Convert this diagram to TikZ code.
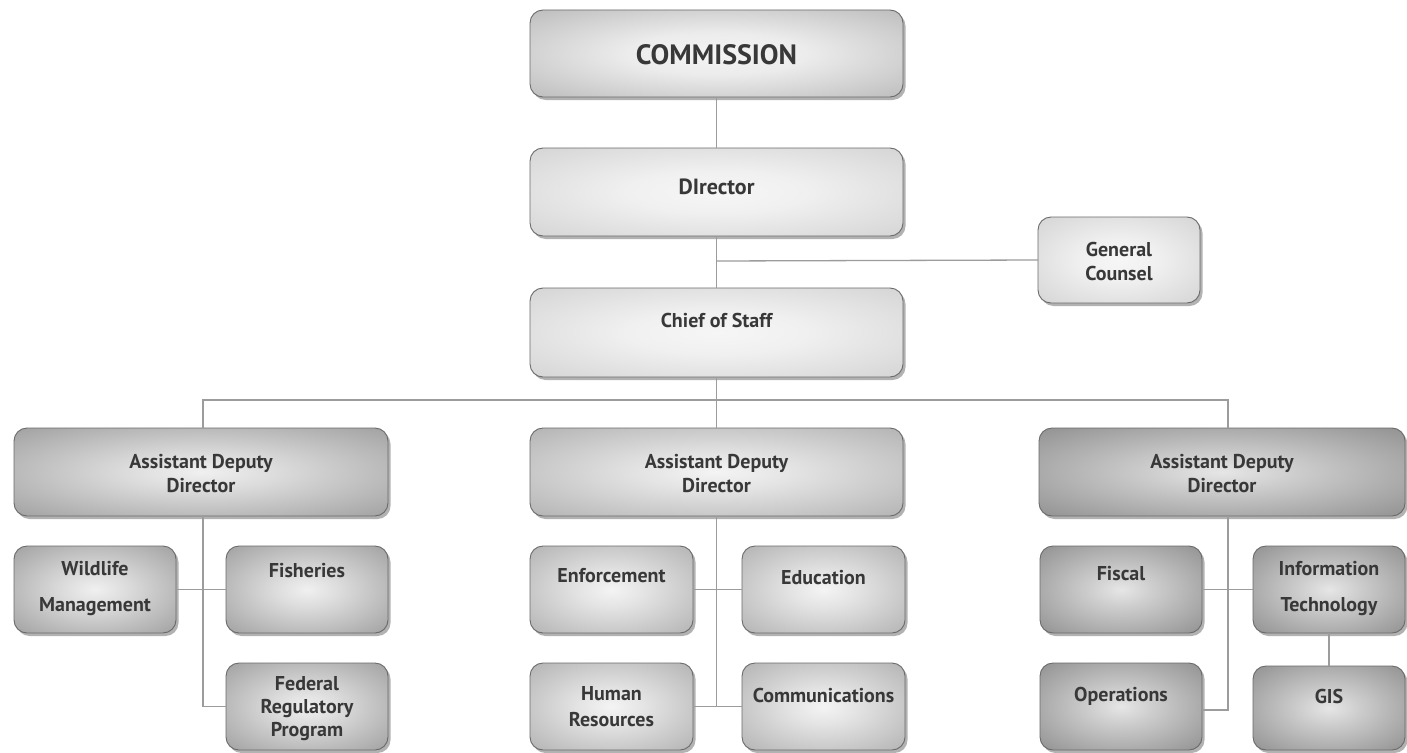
\documentclass[tikz,border=0pt]{standalone}
\usepackage{fontspec}
\setmainfont{PT Sans}
\usetikzlibrary{shadows}
\definecolor{txt}{HTML}{383838}
\definecolor{ln}{HTML}{9C9C9C}
\definecolor{bd}{HTML}{6A6A6A}
\pgfdeclareradialshading{shTop}{\pgfpoint{0bp}{0bp}}{color(0bp)=(rgb,255:red,244;green,244;blue,244); color(12bp)=(rgb,255:red,236;green,236;blue,236); color(50bp)=(rgb,255:red,160;green,160;blue,160)}
\pgfdeclareradialshading{shLt}{\pgfpoint{0bp}{0bp}}{color(0bp)=(rgb,255:red,246;green,246;blue,246); color(12bp)=(rgb,255:red,240;green,240;blue,240); color(50bp)=(rgb,255:red,196;green,196;blue,196)}
\pgfdeclareradialshading{shL}{\pgfpoint{0bp}{0bp}}{color(0bp)=(rgb,255:red,240;green,240;blue,240); color(10bp)=(rgb,255:red,220;green,220;blue,220); color(50bp)=(rgb,255:red,128;green,128;blue,128)}
\pgfdeclareradialshading{shM}{\pgfpoint{0bp}{0bp}}{color(0bp)=(rgb,255:red,244;green,244;blue,244); color(10bp)=(rgb,255:red,228;green,228;blue,228); color(50bp)=(rgb,255:red,152;green,152;blue,152)}
\pgfdeclareradialshading{shR}{\pgfpoint{0bp}{0bp}}{color(0bp)=(rgb,255:red,230;green,230;blue,230); color(10bp)=(rgb,255:red,205;green,205;blue,205); color(50bp)=(rgb,255:red,112;green,112;blue,112)}
\tikzset{
  box/.style={draw=bd, line width=0.9pt, rounded corners=13pt, inner sep=0pt, outer sep=0pt,
    drop shadow={shadow xshift=2.5pt, shadow yshift=-3pt, opacity=0.4, fill=black!75}},
  topbox/.style={box, shading=shTop},
  ltbox/.style={box, shading=shLt},
  lbox/.style={box, shading=shL},
  mbox/.style={box, shading=shM},
  rbox/.style={box, shading=shR},
  big/.style={minimum width=373pt, minimum height=88pt},
  small/.style={minimum width=162pt, minimum height=87pt},
  lbl/.style={text=txt, align=center, inner sep=0pt, font=\bfseries\fontsize{20}{24}\selectfont},
  conn/.style={draw=ln, line width=1.3pt}
}
\begin{document}
\begin{tikzpicture}[x=1pt, y=-1pt]
\fill[white] (0,0) rectangle (1407,752);
\useasboundingbox (0,0) rectangle (1407,752);

% boxes
\node[topbox, big, minimum height=87pt] (com) at (716.5,53.5) {};
\node[ltbox, big] (dir) at (716.5,192) {};
\node[ltbox, big, minimum height=89pt] (cos) at (716.5,332.5) {};
\node[ltbox, small, minimum height=86pt] (gc) at (1119,260) {};
\node[lbox, big, minimum width=374pt] (addL) at (201,472) {};
\node[mbox, big] (addM) at (716.5,472) {};
\node[rbox, big, minimum width=366pt] (addR) at (1222,472) {};
\node[lbox, small] (wild) at (95,589.5) {};
\node[lbox, small] (fish) at (307,589.5) {};
\node[lbox, small] (fed) at (307,706.5) {};
\node[mbox, small, minimum width=163pt] (enf) at (611.5,589.5) {};
\node[mbox, small, minimum width=163pt] (edu) at (823.5,589.5) {};
\node[mbox, small, minimum width=163pt] (hr) at (611.5,706.5) {};
\node[mbox, small, minimum width=163pt] (comm) at (823.5,706.5) {};
\node[rbox, small] (fisc) at (1121,589.5) {};
\node[rbox, small, minimum width=152pt] (it) at (1329,589.5) {};
\node[rbox, small] (ops) at (1121,706.5) {};
\node[rbox, small, minimum width=152pt, minimum height=84pt] (gis) at (1329,708) {};

% labels
\node[lbl, font=\bfseries\fontsize{28}{32}\selectfont] (tcom) at (716.5,55) {COMMISSION};
\node[lbl, font=\bfseries\fontsize{22}{26}\selectfont] (tdir) at (716.5,187) {DIrector};
\node[lbl] (tcos) at (716.5,320) {Chief of Staff};
\node[lbl] (tgc) at (1119,261) {General\\Counsel};
\node[lbl] (taddL) at (201,474) {Assistant Deputy\\Director};
\node[lbl] (taddM) at (716.5,474) {Assistant Deputy\\Director};
\node[lbl] (taddR) at (1222,474) {Assistant Deputy\\Director};
\node[lbl] (twild) at (95,589) {Wildlife\\[12pt]Management};
\node[lbl] (tfish) at (307,571) {Fisheries};
\node[lbl, font=\bfseries\fontsize{20}{23}\selectfont] (tfed) at (307,709) {Federal\\Regulatory\\Program};
\node[lbl] (tenf) at (611.5,576) {Enforcement};
\node[lbl] (tedu) at (823.5,578) {Education};
\node[lbl, font=\bfseries\fontsize{20}{26}\selectfont] (thr) at (611.5,707) {Human\\Resources};
\node[lbl] (tcomm) at (823.5,695) {Communications};
\node[lbl] (tfisc) at (1121,574) {Fiscal};
\node[lbl] (tit) at (1329,589) {Information\\[12pt]Technology};
\node[lbl] (tops) at (1121,696) {Operations};
\node[lbl] (tgis) at (1329,696) {GIS};

% connectors
\coordinate (jgc) at (716.5,261);
\coordinate (bus) at (716.5,400);
\coordinate (busL) at (203,400);
\coordinate (busR) at (1228,400);
\coordinate (vL) at (203,706.5);
\coordinate (vM) at (716.5,706.5);
\coordinate (vR) at (1228,710);
\path[conn] (com.south) -- (dir.north);
\path[conn] (dir.south) -- (cos.north);
\path[conn] (jgc) -- (gc.west);
\path[conn] (cos.south) -- (bus);
\path[conn] (busL |- addL.north) -- (busL) -- (busR) -- (busR |- addR.north);
\path[conn] (bus) -- (addM.north);
\path[conn] (vL |- addL.south) -- (vL) -- (fed.west);
\path[conn] (wild.east) -- (fish.west);
\path[conn] (addM.south) -- (vM);
\path[conn] (enf.east) -- (edu.west);
\path[conn] (hr.east) -- (comm.west);
\path[conn] (vR |- addR.south) -- (vR) -- (ops.east |- vR);
\path[conn] (fisc.east) -- (it.west);
\path[conn] (it.south) -- (gis.north);
\end{tikzpicture}
\end{document}
